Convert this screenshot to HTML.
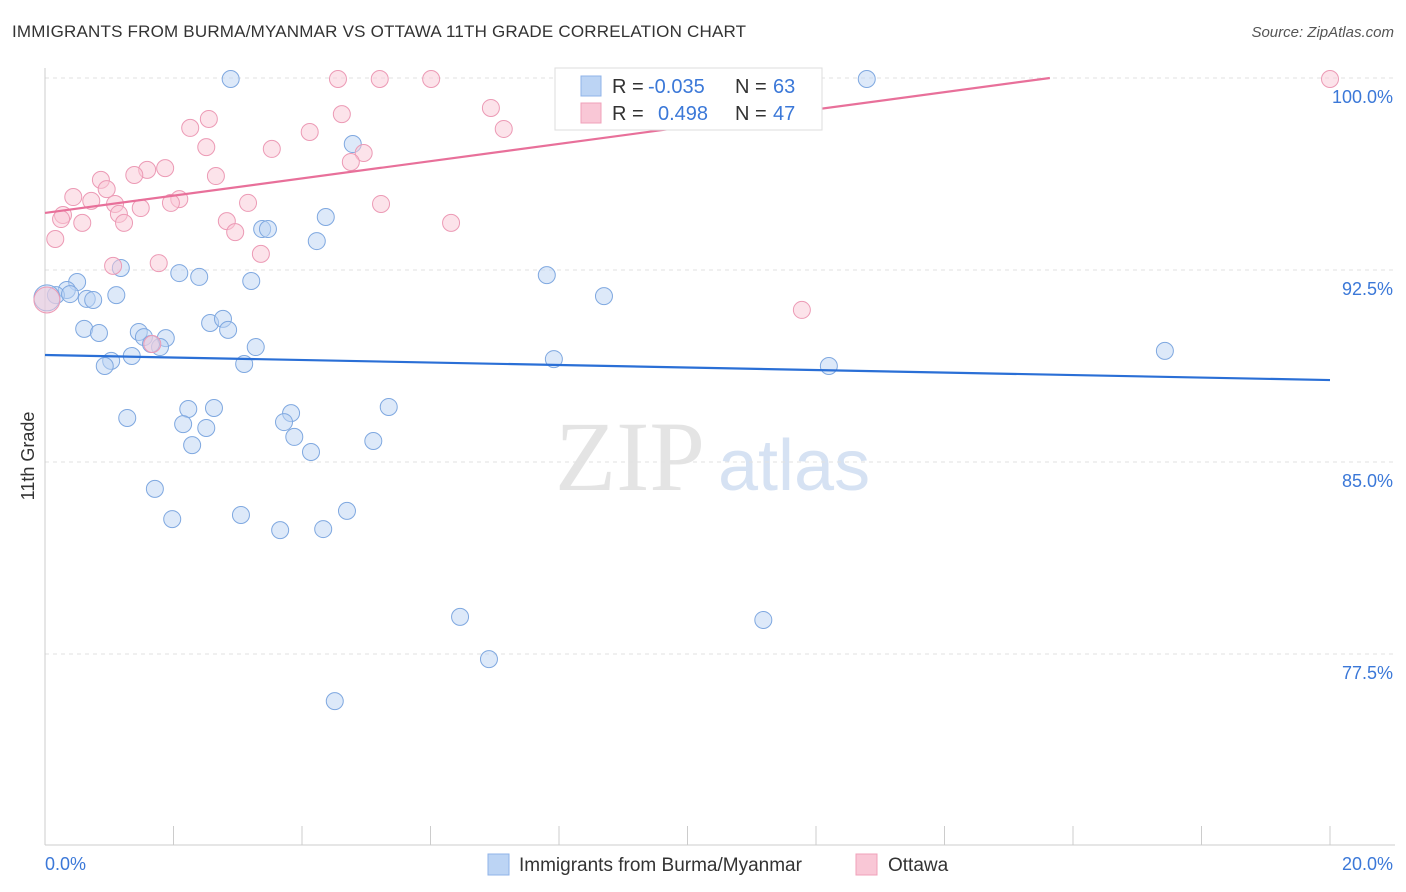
<!DOCTYPE html>
<html><head><meta charset="utf-8">
<style>
body{margin:0;background:#fff;font-family:"Liberation Sans",sans-serif;}
#wrap{position:relative;width:1406px;height:892px;overflow:hidden;}
.title{position:absolute;left:12px;top:22px;font-size:17px;color:#333;letter-spacing:0.2px}
.source{position:absolute;right:12px;top:24px;font-size:15px;color:#555;font-style:italic}
</style></head><body>
<div id="wrap">
<div class="title">IMMIGRANTS FROM BURMA/MYANMAR VS OTTAWA 11TH GRADE CORRELATION CHART</div>
<div class="source">Source: ZipAtlas.com</div>
<svg id="chart" width="1406" height="892" style="position:absolute;left:0;top:0">
<text x="555" y="490" font-size="100" fill="#e4e4e4" font-family="Liberation Serif">ZIP</text>
<text x="718" y="490" font-size="72" fill="#d6e2f3" font-family="Liberation Sans">atlas</text>
<g id="grid"></g><g id="axes"></g><g id="pts"></g><g id="lines"></g>
<g>
<rect x="555" y="68" width="267" height="62" fill="#fff" stroke="#ddd"/>
<rect x="581" y="76" width="20" height="20" fill="#bcd4f4" stroke="#8fb3e8"/>
<rect x="581" y="103" width="20" height="20" fill="#f9c7d6" stroke="#f0a0ba"/>
<text x="612" y="93" font-size="20" fill="#333">R = </text><text x="648" y="93" font-size="20" fill="#3b78d8">-0.035</text>
<text x="735" y="93" font-size="20" fill="#333">N = </text><text x="773" y="93" font-size="20" fill="#3b78d8">63</text>
<text x="612" y="120" font-size="20" fill="#333">R = </text><text x="658" y="120" font-size="20" fill="#3b78d8">0.498</text>
<text x="735" y="120" font-size="20" fill="#333">N = </text><text x="773" y="120" font-size="20" fill="#3b78d8">47</text>
</g>
<g>
<rect x="488" y="854" width="21" height="21" fill="#bcd4f4" stroke="#8fb3e8"/>
<text x="519" y="871" font-size="19" fill="#333">Immigrants from Burma/Myanmar</text>
<rect x="856" y="854" width="21" height="21" fill="#f9c7d6" stroke="#f0a0ba"/>
<text x="888" y="871" font-size="19" fill="#333">Ottawa</text>
</g>
<text transform="translate(34,456) rotate(-90)" text-anchor="middle" font-size="18" fill="#333">11th Grade</text>
</svg>
</div>
<script>
const blueX=[2.89,12.79,4.79,4.37,3.38,3.47,4.23,7.81,8.70,2.09,2.40,3.21,1.18,0.50,0.34,0.17,0.39,0.65,0.75,1.11,0.61,0.84,1.46,1.88,1.54,1.79,1.65,2.57,2.77,2.85,3.28,1.35,1.03,0.93,3.10,7.92,12.20,17.43,1.28,2.23,2.63,2.15,2.51,2.29,3.83,3.72,3.88,4.14,5.35,5.11,1.71,1.98,3.05,3.66,4.33,4.70,6.46,11.18,6.91,4.51,0.03];
const blueY=[99.96,99.96,97.42,94.57,94.10,94.10,93.63,92.30,91.48,92.38,92.23,92.07,92.58,92.03,91.72,91.52,91.56,91.37,91.33,91.52,90.20,90.04,90.08,89.84,89.88,89.49,89.61,90.43,90.59,90.16,89.49,89.14,88.95,88.75,88.83,89.02,88.75,89.34,86.72,87.07,87.11,86.48,86.33,85.66,86.91,86.56,85.98,85.39,87.15,85.82,83.95,82.77,82.93,82.34,82.38,83.09,78.95,78.83,77.30,75.66,91.41];
const pinkX=[4.56,5.21,6.01,8.30,9.37,9.96,20.0,6.94,4.62,2.55,7.14,2.26,4.12,2.51,3.53,4.96,4.76,1.87,1.59,0.87,1.39,2.66,0.96,0.44,2.09,1.96,0.72,1.09,3.16,5.23,1.15,1.49,0.28,0.25,1.23,0.58,2.83,2.96,6.32,0.16,3.36,1.77,1.06,1.67,11.78,0.03];
const pinkY=[99.96,99.96,99.96,99.96,99.96,99.96,99.96,98.83,98.59,98.40,98.01,98.05,97.89,97.30,97.23,97.07,96.72,96.48,96.41,96.02,96.21,96.17,95.66,95.35,95.27,95.12,95.20,95.08,95.12,95.08,94.69,94.92,94.65,94.49,94.34,94.34,94.41,93.98,94.34,93.71,93.13,92.77,92.66,89.61,90.94,91.33];
const yTicks=[100,92.5,85,77.5];
const yTickLabels=["100.0%","92.5%","85.0%","77.5%"];
const xTicks=[0,2,4,6,8,10,12,14,16,18,20];
const blueTrend=[89.18,88.20];
const pinkTrend=[94.73,100.0];
const pinkTrendEndX=15.64;

const X=v=>45+v*64.25;
const Y=v=>78+(100-v)*25.6;
const NS="http://www.w3.org/2000/svg";
function mk(tag,attrs,parent){const e=document.createElementNS(NS,tag);for(const k in attrs)e.setAttribute(k,attrs[k]);parent.appendChild(e);return e;}
const grid=document.getElementById('grid'),axes=document.getElementById('axes'),pts=document.getElementById('pts'),lines=document.getElementById('lines');
yTicks.forEach((t,i)=>{
 const l=mk('line',{x1:45,x2:1395,y1:Y(t),y2:Y(t),stroke:'#e2e2e2','stroke-dasharray':'4,4'},grid);
 
 
 const tx=mk('text',{x:1393,y:Y(t)+25,'text-anchor':'end','font-size':18,fill:'#3b78d8'},axes);
 tx.textContent=yTickLabels[i];
 
 
});
const ax=mk('line',{x1:45,x2:1395,y1:845,y2:845,stroke:'#ccc'},axes);


const ay=mk('line',{x1:45,x2:45,y1:68,y2:845,stroke:'#ccc'},axes);


xTicks.forEach(t=>{
 const l=mk('line',{x1:X(t),x2:X(t),y1:826,y2:845,stroke:'#ccc'},axes);
 
 
});
const xl0=mk('text',{x:45,y:870,'font-size':18,fill:'#3b78d8'},axes);xl0.textContent=xTicks[0].toFixed(1)+'%';


const xl1=mk('text',{x:1393,y:870,'font-size':18,fill:'#3b78d8','text-anchor':'end'},axes);xl1.textContent=xTicks[xTicks.length-1].toFixed(1)+'%';


function dots(xs,ys,fill,stroke,name){
 xs.forEach((x,i)=>{
  const big=(x<0.1);
  const c=mk('circle',{cx:X(x),cy:Y(ys[i]),r:big?13:8.5,fill:fill,'fill-opacity':0.5,stroke:stroke,'stroke-width':1},pts);
  
  
 });
}
dots(blueX,blueY,'#bcd4f4','#7fa8e0','blue-point');
dots(pinkX,pinkY,'#f9c7d6','#ec9ab5','pink-point');
const bl=mk('line',{x1:X(0),y1:Y(blueTrend[0]),x2:X(20),y2:Y(blueTrend[1]),stroke:'#2a6fd6','stroke-width':2.2},lines);


const pl=mk('line',{x1:X(0),y1:Y(pinkTrend[0]),x2:X(pinkTrendEndX),y2:Y(pinkTrend[1]),stroke:'#e8709a','stroke-width':2.2},lines);


</script>
</body></html>
